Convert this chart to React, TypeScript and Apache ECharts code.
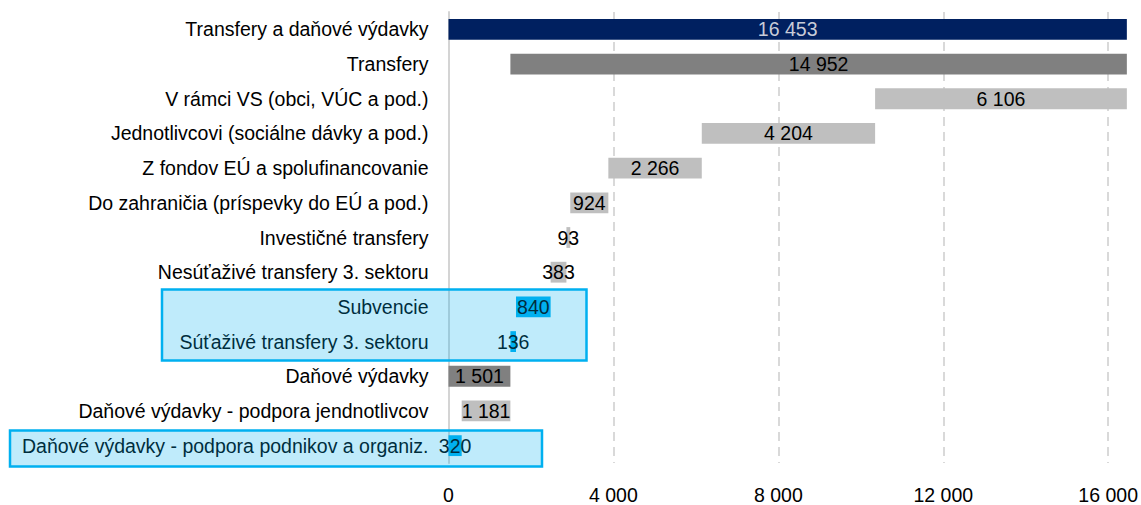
import React, { useEffect, useRef } from "react";
import * as echarts from "echarts";

const categories = [
  "Transfery a daňové výdavky",
  "Transfery",
  "V rámci VS (obci, VÚC a pod.)",
  "Jednotlivcovi (sociálne dávky a pod.)",
  "Z fondov EÚ a spolufinancovanie",
  "Do zahraničia (príspevky do EÚ a pod.)",
  "Investičné transfery",
  "Nesúťaživé transfery 3. sektoru",
  "Subvencie",
  "Súťaživé transfery 3. sektoru",
  "Daňové výdavky",
  "Daňové výdavky - podpora jendnotlivcov",
  "Daňové výdavky - podpora podnikov a organiz.",
];

const values = [16453, 14952, 6106, 4204, 2266, 924, 93, 383, 840, 136, 1501, 1181, 320];
const starts = [0, 1501, 10347, 6143, 3877, 2953, 2860, 2477, 1637, 1501, 0, 320, 0];

const NAVY = "#002060";
const DARK = "#808080";
const LIGHT = "#bfbfbf";
const BLUE = "#00b0f0";
const barColors = [NAVY, DARK, LIGHT, LIGHT, LIGHT, LIGHT, LIGHT, LIGHT, BLUE, BLUE, DARK, LIGHT, BLUE];
const labelColors = ["#c8ccd8", "#000", "#000", "#000", "#000", "#000", "#000", "#000", "#000", "#000", "#000", "#000", "#000"];

const xTicks = [4000, 8000, 12000, 16000];
const xMax = 16453;

const fmt = (n: number) => String(n).replace(/\B(?=(\d{3})+(?!\d))/g, " ");

const FONT = "Liberation Sans, Arial, sans-serif";

export default function App() {
  const ref = useRef<HTMLDivElement>(null);
  useEffect(() => {
    if (!ref.current) return;
    const chart = echarts.init(ref.current, undefined, { renderer: "svg" });
    chart.setOption({
      animation: false,
      grid: { left: 448.5, right: 12.5, top: 12, bottom: 40.5 },
      xAxis: {
        type: "value",
        min: 0,
        max: xMax,
        interval: 4000,
        splitLine: { show: false },
        axisLine: { show: false },
        axisTick: { show: false },
        axisLabel: {
          showMaxLabel: false,
          margin: 22,
          fontSize: 19.5,
          fontFamily: FONT,
          color: "#000",
          formatter: (v: number) => fmt(v),
        },
      },
      yAxis: {
        type: "category",
        inverse: true,
        data: categories,
        z: 0,
        axisTick: { show: false },
        axisLine: { show: true, lineStyle: { color: "#d4d4d4", width: 2 } },
        axisLabel: { margin: 20, fontSize: 19.5, fontFamily: FONT, color: "#000" },
      },
      series: [
        {
          type: "bar",
          stack: "w",
          data: starts,
          itemStyle: { color: "transparent" },
          silent: true,
          z: 1,
          markLine: {
            silent: true,
            z: 0,
            symbol: "none",
            label: { show: false },
            lineStyle: { color: "#d9d9d9", width: 2, type: [9, 6] },
            data: xTicks.map((v) => ({ xAxis: v })),
          },
        },
        {
          type: "bar",
          stack: "w",
          barWidth: "60%",
          z: 3,
          data: values.map((v, i) => ({
            value: v,
            itemStyle: { color: barColors[i] },
            label: { color: labelColors[i] },
          })),
          label: {
            show: true,
            position: "inside",
            fontSize: 19.5,
            fontFamily: FONT,
            formatter: (p: any) => fmt(p.value),
          },
        },
      ],
      graphic: [
        {
          type: "rect",
          z: 100,
          shape: { x: 162, y: 289.5, width: 424.5, height: 71 },
          style: { fill: "rgba(0,176,240,0.25)", stroke: BLUE, lineWidth: 2.5 },
          silent: true,
        },
        {
          type: "rect",
          z: 100,
          shape: { x: 10, y: 430.5, width: 532, height: 36 },
          style: { fill: "rgba(0,176,240,0.25)", stroke: BLUE, lineWidth: 2.5 },
          silent: true,
        },
      ],
    });
    return () => chart.dispose();
  }, []);
  return (
    <div
      ref={ref}
      style={{ position: "fixed", left: 0, top: 0, width: 1141, height: 505, background: "#fff" }}
    />
  );
}
